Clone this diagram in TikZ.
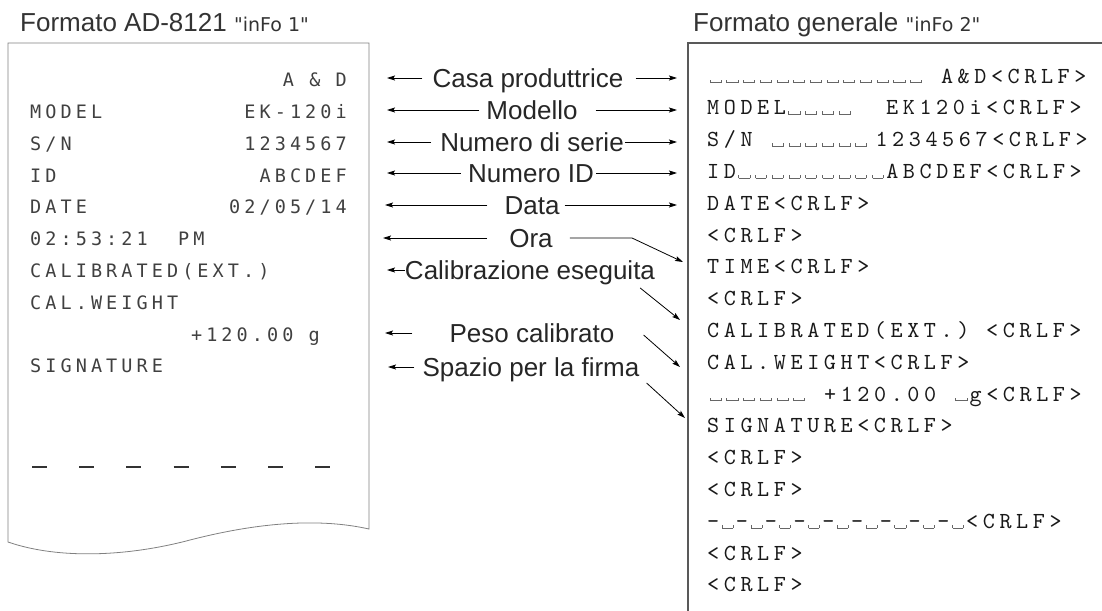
\documentclass[tikz,border=0pt]{standalone}
\usepackage{fontspec}
\setmainfont{Liberation Sans}
\newfontfamily\dotfont[LetterSpace=22]{DejaVu Sans Mono}
\newfontfamily\typefont[Extension=.otf,LetterSpace=20]{lmmono10-regular}
\newfontfamily\segfont{DejaVu Sans}
\usetikzlibrary{arrows.meta,positioning}

% visible blank of the general format, one column wide
\newcommand{\vblank}{\makebox[16.7pt][c]{\textcolor{black!60}{\rule{0.6pt}{3.5pt}\rule{10.5pt}{0.6pt}\rule{0.6pt}{3.5pt}}}}
\newcommand{\emptycol}{\hspace*{16.7pt}}
\newcommand{\segtext}[1]{{\segfont\fontsize{19}{19}\selectfont"#1"}}

\begin{document}
\begin{tikzpicture}[x=1pt,y=-1pt,>={Stealth[length=8pt,width=5pt,inset=1.5pt]}]
      \tikzstyle{title}=[anchor=west,inner sep=0,text height=18.6pt,text depth=0pt,font=\fontsize{26}{30}\selectfont,text=black!80]
      \tikzstyle{lbl}=[inner sep=0,text height=18.6pt,text depth=0pt,font=\fontsize{26}{30}\selectfont,text=black!85]
      \tikzstyle{dotrow}=[inner sep=0,text height=13.5pt,text depth=0pt,font=\dotfont\fontsize{18.5}{20}\selectfont,text=black!75]
      \tikzstyle{crlf}=[anchor=west,inner sep=0,text height=14pt,text depth=0pt,font=\typefont\fontsize{23}{26}\selectfont,text=black!90]
      \tikzstyle{pointer}=[->,line width=0.8pt]

      \useasboundingbox (0,0) rectangle (1102,610);

      \node[title] (title1) at (20,22) {Formato AD-8121 \segtext{inFo 1}};
      \node[title] (title2) at (693,22) {Formato generale \segtext{inFo 2}};

      % printed slip
      \draw[black!50,line width=0.8pt] (8,43) -- (369,43) -- (369,529)
        .. controls (320,518) and (260,522) .. (190,540)
        .. controls (130,556) and (60,560) .. (8,542) -- cycle;

      \node[dotrow,anchor=east] (maker) at (347,80) {A\ \&\ D};
      \node[dotrow,anchor=west] (model) at (30,111.8) {MODEL};
      \node[dotrow,anchor=east] (modelv) at (347,111.8) {EK-120i};
      \node[dotrow,anchor=west] (serial) at (30,143.6) {S/N};
      \node[dotrow,anchor=east] (serialv) at (347,143.6) {1234567};
      \node[dotrow,anchor=west] (ident) at (30,175.4) {ID};
      \node[dotrow,anchor=east] (identv) at (347,175.4) {ABCDEF};
      \node[dotrow,anchor=west] (date) at (30,207.2) {DATE};
      \node[dotrow,anchor=east] (datev) at (347,207.2) {02/05/14};
      \node[dotrow,anchor=west] (time) at (30,239) {02:53:21\ \ PM};
      \node[dotrow,anchor=west] (calext) at (30,270.8) {CALIBRATED(EXT.)};
      \node[dotrow,anchor=west] (calw) at (30,302.6) {CAL.WEIGHT};
      \node[dotrow,anchor=east] (calwv) at (320,334.4) {+120.00 g};
      \node[dotrow,anchor=west] (sign) at (30,366.2) {SIGNATURE};
      \foreach \i in {0,...,6}
        \draw[line width=2.2pt,black!80] (32+47.2*\i,467) -- ++(15,0);

      % general format
      \draw[line width=1.8pt,black!65] (688,615) -- (688,43) -- (1110,43);

      \node[crlf] (r1) at (707,76) {\vblank\vblank\vblank\vblank\vblank\vblank\vblank\vblank\vblank\vblank\vblank\vblank\vblank\emptycol A\&D<CRLF>};
      \node[crlf] (r2) at (707,107.8) {MODEL\vblank\vblank\vblank\vblank\emptycol\emptycol EK120i<CRLF>};
      \node[crlf] (r3) at (707,139.6) {S/N\emptycol\vblank\vblank\vblank\vblank\vblank\vblank\hspace*{6pt}1234567<CRLF>};
      \node[crlf] (r4) at (707,171.4) {ID\vblank\vblank\vblank\vblank\vblank\vblank\vblank\vblank\vblank ABCDEF<CRLF>};
      \node[crlf] (r5) at (707,203.2) {DATE<CRLF>};
      \node[crlf] (r6) at (707,235) {<CRLF>};
      \node[crlf] (r7) at (707,266.8) {TIME<CRLF>};
      \node[crlf] (r8) at (707,298.6) {<CRLF>};
      \node[crlf] (r9) at (707,330.4) {CALIBRATED(EXT.)\emptycol<CRLF>};
      \node[crlf] (r10) at (707,362.2) {CAL.WEIGHT<CRLF>};
      \node[crlf] (r11) at (707,394) {\vblank\vblank\vblank\vblank\vblank\vblank\emptycol +120.00\emptycol\vblank g<CRLF>};
      \node[crlf] (r12) at (707,425.8) {SIGNATURE<CRLF>};
      \node[crlf] (r13) at (707,457.6) {<CRLF>};
      \node[crlf] (r14) at (707,489.4) {<CRLF>};
      \node[crlf] (r15) at (707,521.2) {-\vblank-\vblank-\vblank-\vblank-\vblank-\vblank-\vblank-\vblank-\vblank<CRLF>};
      \node[crlf] (r16) at (707,553) {<CRLF>};
      \node[crlf] (r17) at (707,584.8) {<CRLF>};

      % labels in the middle
      \node[lbl] (casa) at (528,78) {Casa produttrice};
      \node[lbl] (modello) at (532,110) {Modello};
      \node[lbl] (serie) at (532,142) {Numero di serie};
      \node[lbl] (numid) at (531,173) {Numero ID};
      \node[lbl] (data) at (532,205) {Data};
      \node[lbl] (ora) at (531,238) {Ora};
      \node[lbl] (calib) at (530,270) {Calibrazione eseguita};
      \node[lbl] (peso) at (532,333) {Peso calibrato};
      \node[lbl] (firma) at (531,367) {Spazio per la firma};

      \coordinate (casaL) at (387,78);
      \coordinate (casaR) at (677,78);
      \coordinate (modelloL) at (387,110);
      \coordinate (modelloR) at (677,110);
      \coordinate (serieL) at (387,142);
      \coordinate (serieR) at (677,142);
      \coordinate (numidL) at (387,173);
      \coordinate (numidR) at (677,173);
      \coordinate (dataL) at (385,205);
      \coordinate (dataR) at (677,205);
      \coordinate (oraL) at (383,238);
      \coordinate (oraK) at (632,238);
      \coordinate (oraR) at (683,262);
      \coordinate (calibL) at (387,270);
      \coordinate (calibR) at (680,320);
      \coordinate (pesoL) at (385,333);
      \coordinate (pesoR) at (680,367);
      \coordinate (firmaL) at (388,367);
      \coordinate (firmaR) at (685,418);

      \draw[pointer] ([xshift=-10pt]casa.west) -- (casaL);
      \draw[pointer] ([xshift=12pt]casa.east) -- (casaR);
      \draw[pointer] ([xshift=-7pt]modello.west) -- (modelloL);
      \draw[pointer] ([xshift=18pt]modello.east) -- (modelloR);
      \draw[pointer] ([xshift=-9pt]serie.west) -- (serieL);
      \draw[pointer] ([xshift=1pt]serie.east) -- (serieR);
      \draw[pointer] ([xshift=-7pt]numid.west) -- (numidL);
      \draw[pointer] ([xshift=2pt]numid.east) -- (numidR);
      \draw[pointer] ([xshift=-17pt]data.west) -- (dataL);
      \draw[pointer] ([xshift=5pt]data.east) -- (dataR);
      \draw[pointer] ([xshift=-22pt]ora.west) -- (oraL);
      \draw[pointer] ([xshift=17pt]ora.east) -- (oraK) -- (oraR);
      \draw[pointer] (calib.west) -- (calibL);
      \draw[pointer] ([shift={(-15,18)}]calib.east) -- (calibR);
      \draw[pointer] ([xshift=-37pt]peso.west) -- (pesoL);
      \draw[pointer] ([shift={(29,2)}]peso.east) -- (pesoR);
      \draw[pointer] ([xshift=-8pt]firma.west) -- (firmaL);
      \draw[pointer] ([shift={(7,16)}]firma.east) -- (firmaR);
\end{tikzpicture}
\end{document}
